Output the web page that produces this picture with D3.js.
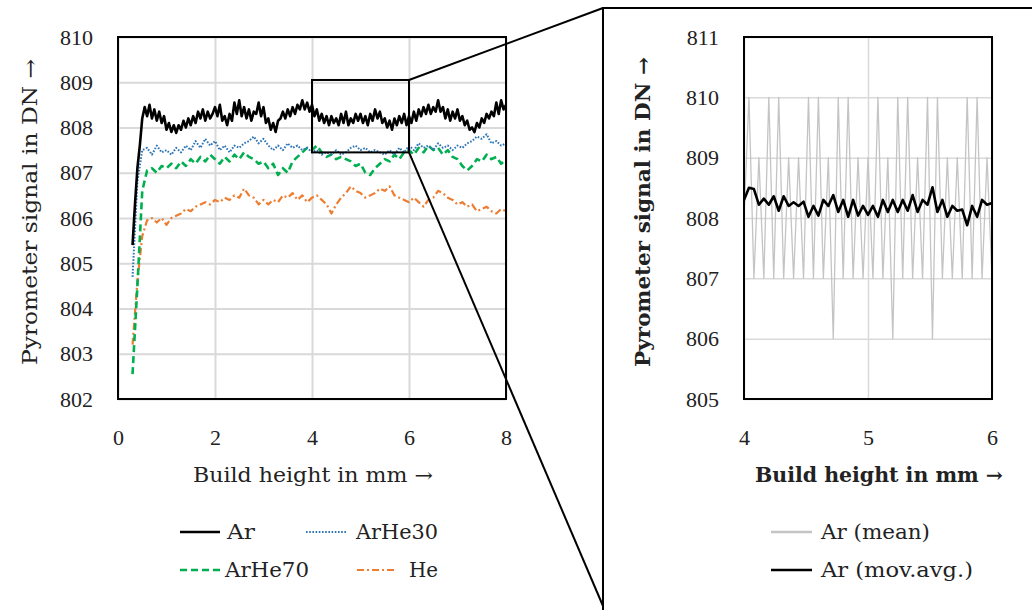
<!DOCTYPE html>
<html>
<head>
<meta charset="utf-8">
<script src="https://cdn.jsdelivr.net/npm/d3@7"></script>
<style>
  body { margin: 0; background: #fff; }
  svg { display: block; }
  text { font-family: "DejaVu Serif", "Liberation Serif", serif; fill: #222; }
</style>
</head>
<body>
<div id="chart"></div>
<script>
// ---- data ----
// left panel: build height 0.3 .. 8.0 mm, values in DN
const arX = [0.3, 8.0];
const arValues = [
  805.40, 806.30, 807.10, 807.60, 808.20, 808.45, 808.25, 808.50, 808.20, 808.40,
  808.15, 808.35, 808.10, 808.25, 807.95, 808.10, 807.90, 808.05, 807.88, 808.05,
  807.95, 808.15, 808.00, 808.20, 808.05, 808.25, 808.10, 808.35, 808.20, 808.40,
  808.15, 808.35, 808.20, 808.30, 808.45, 808.25, 808.50, 808.15, 808.25, 808.05,
  808.30, 808.15, 808.55, 808.30, 808.60, 808.25, 808.45, 808.20, 808.40, 808.15,
  808.35, 808.30, 808.55, 808.25, 808.45, 808.10, 808.20, 807.95, 808.10, 807.90,
  808.15, 808.20, 808.35, 808.20, 808.40, 808.25, 808.45, 808.30, 808.50, 808.40,
  808.60, 808.40, 808.55, 808.35, 808.50, 808.25, 808.40, 808.15, 808.30, 808.10,
  808.25, 808.05, 808.25, 808.10, 808.20, 808.05, 808.30, 808.10, 808.35, 808.05,
  808.20, 808.10, 808.30, 808.15, 808.30, 808.10, 808.25, 808.05, 808.30, 808.15,
  808.40, 808.20, 808.35, 808.10, 808.20, 808.00, 808.15, 807.95, 808.20, 808.05,
  808.25, 808.10, 808.30, 808.05, 808.25, 808.10, 808.35, 808.15, 808.40, 808.25,
  808.45, 808.30, 808.50, 808.30, 808.45, 808.35, 808.60, 808.35, 808.45, 808.20,
  808.40, 808.15, 808.35, 808.20, 808.40, 808.15, 808.25, 808.05, 808.15, 807.95,
  808.00, 807.90, 808.10, 808.00, 808.20, 808.10, 808.30, 808.20, 808.35, 808.25,
  808.55, 808.30, 808.60, 808.40, 808.50
];
const mixX = [0.3, 8.0];
const arHe30Values = [
  804.70, 806.80, 807.50, 807.55, 807.40, 807.60, 807.45, 807.50, 807.40, 807.55,
  807.45, 807.60, 807.50, 807.70, 807.55, 807.75, 807.60, 807.70, 807.50, 807.60,
  807.45, 807.60, 807.55, 807.65, 807.70, 807.80, 807.65, 807.75, 807.60, 807.50,
  807.60, 807.50, 807.65, 807.55, 807.60, 807.50, 807.55, 807.45, 807.50, 807.40,
  807.45, 807.40, 807.50, 807.40, 807.45, 807.55, 807.60, 807.50, 807.55, 807.45,
  807.50, 807.45, 807.40, 807.50, 807.40, 807.55, 807.45, 807.60, 807.50, 807.65,
  807.55, 807.60, 807.50, 807.65, 807.55, 807.60, 807.50, 807.60, 807.55, 807.65,
  807.70, 807.80, 807.75, 807.85, 807.65, 807.70, 807.60, 807.65
];
const arHe70Values = [
  802.55, 804.50, 806.60, 807.05, 807.10, 807.00, 807.15, 807.10, 807.20, 807.10,
  807.25, 807.15, 807.30, 807.20, 807.35, 807.25, 807.40, 807.30, 807.20, 807.35,
  807.25, 807.40, 807.30, 807.45, 807.35, 807.30, 807.20, 807.25, 807.10, 807.20,
  806.95, 807.10, 807.00, 807.25, 807.35, 807.45, 807.55, 807.50, 807.60, 807.45,
  807.35, 807.40, 807.30, 807.35, 807.30, 807.25, 807.15, 807.20, 807.00, 806.95,
  807.10, 807.20, 807.30, 807.25, 807.40, 807.30, 807.45, 807.50, 807.40, 807.55,
  807.45, 807.60, 807.50, 807.55, 807.40, 807.50, 807.35, 807.30, 807.15, 807.05,
  807.15, 807.30, 807.25, 807.40, 807.30, 807.35, 807.20, 807.30
];
const heValues = [
  803.20, 804.60, 805.60, 805.95, 806.00, 805.90, 806.00, 805.85, 806.00, 806.05,
  806.10, 806.20, 806.15, 806.25, 806.30, 806.35, 806.30, 806.40, 806.35, 806.45,
  806.40, 806.50, 806.45, 806.65, 806.50, 806.45, 806.30, 806.40, 806.30, 806.40,
  806.35, 806.50, 806.45, 806.55, 806.40, 806.50, 806.35, 806.45, 806.50, 806.40,
  806.30, 806.10, 806.30, 806.45, 806.55, 806.70, 806.60, 806.55, 806.45, 806.50,
  806.55, 806.65, 806.60, 806.70, 806.50, 806.45, 806.40, 806.35, 806.45, 806.35,
  806.25, 806.40, 806.45, 806.60, 806.55, 806.45, 806.40, 806.30, 806.35, 806.25,
  806.30, 806.15, 806.20, 806.25, 806.15, 806.10, 806.20, 806.15
];
// right panel: zoom 4 .. 6 mm of Ar
const zoomX = [4.0, 6.0];
const arMeanValues = [
  808, 810, 807, 809, 807, 810, 807, 810, 807, 809,
  807, 809, 807, 810, 807, 810, 807, 809, 806, 810,
  807, 810, 807, 809, 807, 809, 807, 810, 807, 809,
  806, 810, 807, 810, 807, 809, 807, 810, 806, 810,
  807, 809, 807, 809, 807, 810, 807, 810, 807, 809,
  807
];
const arMovAvgValues = [
  808.30, 808.50, 808.48, 808.22, 808.32, 808.22, 808.36, 808.12, 808.36, 808.20,
  808.26, 808.20, 808.27, 808.02, 808.20, 808.04, 808.30, 808.20, 808.38, 808.10,
  808.30, 808.02, 808.30, 808.04, 808.20, 808.05, 808.20, 808.02, 808.30, 808.10,
  808.30, 808.10, 808.30, 808.12, 808.38, 808.10, 808.30, 808.22, 808.51, 808.10,
  808.30, 808.02, 808.20, 808.12, 808.14, 807.88, 808.20, 808.02, 808.30, 808.22,
  808.25
];
const leftXTicks = [0, 2, 4, 6, 8];
const leftYTicks = [802, 803, 804, 805, 806, 807, 808, 809, 810];
const rightXTicks = [4, 5, 6];
const rightYTicks = [805, 806, 807, 808, 809, 810, 811];
const zoomBox = { x: [4, 6], y: [807.45, 809.05] };

// turn a value list into points spread evenly over its x span
function toPoints(span, values) {
  const step = (span[1] - span[0]) / (values.length - 1);
  return values.map((v, i) => ({ x: span[0] + i * step, y: v }));
}

const width = 1032, height = 610;
const svg = d3.select("#chart").append("svg")
    .attr("width", width)
    .attr("height", height);

const leftSeries = [
  { name: "Ar", pts: toPoints(arX, arValues), color: "#000", w: 2.6, dash: null },
  { name: "ArHe30", pts: toPoints(mixX, arHe30Values), color: "#2e75b6", w: 2, dash: "1.6,1.6" },
  { name: "ArHe70", pts: toPoints(mixX, arHe70Values), color: "#00b050", w: 2.6, dash: "7,4" },
  { name: "He", pts: toPoints(mixX, heValues), color: "#ed7d31", w: 2.2, dash: "7,3,2,3" }
];
// draw order: He, ArHe70, ArHe30, Ar on top
const drawOrder = ["He", "ArHe70", "ArHe30", "Ar"];

// ---- left panel ----
const xL = d3.scaleLinear().domain([0, 8]).range([118, 506]);
const yL = d3.scaleLinear().domain([802, 810]).range([399, 37]);

function panel(x, y, xTicks, yTicks, gridColor, gridW, fontSize) {
  const g = svg.append("g");
  g.append("g")
      .attr("transform", "translate(0," + y.range()[0] + ")")
      .call(d3.axisBottom(x).tickValues(xTicks).tickSize(-(y.range()[0] - y.range()[1])).tickFormat(""))
      .call(a => a.select(".domain").remove())
      .selectAll("line").attr("stroke", gridColor).attr("stroke-width", gridW);
  g.append("g")
      .attr("transform", "translate(" + x.range()[0] + ",0)")
      .call(d3.axisLeft(y).tickValues(yTicks).tickSize(-(x.range()[1] - x.range()[0])).tickFormat(""))
      .call(a => a.select(".domain").remove())
      .selectAll("line").attr("stroke", gridColor).attr("stroke-width", gridW);
  // tick labels
  g.append("g")
      .attr("transform", "translate(0," + (y.range()[0] + 38) + ")")
      .call(d3.axisBottom(x).tickValues(xTicks).tickSize(0).tickPadding(0).tickFormat(d3.format("d")))
      .call(a => a.select(".domain").remove())
      .selectAll("text")
        .attr("dy", "0.35em")
        .style("font-size", fontSize + "px")
        .style("font-family", '"Liberation Serif", serif')
        .attr("fill", "#222");
  g.append("g")
      .attr("transform", "translate(" + (x.range()[0] - 25) + ",0)")
      .call(d3.axisLeft(y).tickValues(yTicks).tickSize(0).tickPadding(0).tickFormat(d3.format("d")))
      .call(a => a.select(".domain").remove())
      .selectAll("text")
        .style("font-size", fontSize + "px")
        .style("font-family", '"Liberation Serif", serif')
        .attr("fill", "#222");
  return g;
}

// text with a fixed printed width (the source face is wider than ours)
function label(x, y, str, len, opts) {
  opts = opts || {};
  const t = svg.append("text")
      .attr("x", x).attr("y", y)
      .attr("text-anchor", opts.anchor || "start")
      .attr("textLength", len)
      .attr("lengthAdjust", "spacingAndGlyphs")
      .style("font-size", (opts.size || 20) + "px")
      .style("font-weight", opts.bold ? "bold" : "normal")
      .text(str);
  if (opts.rotate) t.attr("transform", "rotate(-90," + x + "," + y + ")");
  return t;
}

panel(xL, yL, leftXTicks, leftYTicks, "#d9d9d9", 2, 22);

const lineL = d3.line().x(d => xL(d.x)).y(d => yL(d.y));
drawOrder.forEach(n => {
  const s = leftSeries.find(d => d.name === n);
  svg.append("path")
      .datum(s.pts)
      .attr("d", lineL)
      .attr("fill", "none")
      .attr("stroke", s.color)
      .attr("stroke-width", s.w)
      .attr("stroke-dasharray", s.dash)
      .attr("stroke-linejoin", "round");
});

svg.append("rect")
    .attr("x", xL(0)).attr("y", yL(810))
    .attr("width", xL(8) - xL(0)).attr("height", yL(802) - yL(810))
    .attr("fill", "none").attr("stroke", "#000").attr("stroke-width", 2);

// zoom box
const bx0 = xL(zoomBox.x[0]), bx1 = xL(zoomBox.x[1]);
const by0 = yL(zoomBox.y[1]), by1 = yL(zoomBox.y[0]);
svg.append("rect")
    .attr("x", bx0).attr("y", by0)
    .attr("width", bx1 - bx0).attr("height", by1 - by0)
    .attr("fill", "none").attr("stroke", "#000").attr("stroke-width", 2);

// axis titles
label(313, 482, "Build height in mm →", 240, { anchor: "middle" });
label(37, 212, "Pyrometer signal in DN →", 306, { anchor: "middle", rotate: true });

// legend, left
const legendLeft = [
  { name: "Ar", lx: 180, ly: 532, tx: 227, len: 28 },
  { name: "ArHe30", lx: 306, ly: 532, tx: 356, len: 82 },
  { name: "ArHe70", lx: 180, ly: 570, tx: 225, len: 84 },
  { name: "He", lx: 357, ly: 570, tx: 409, len: 29 }
];
legendLeft.forEach(l => {
  const s = leftSeries.find(d => d.name === l.name);
  svg.append("line")
      .attr("x1", l.lx).attr("x2", l.lx + 40)
      .attr("y1", l.ly).attr("y2", l.ly)
      .attr("stroke", s.color).attr("stroke-width", s.w)
      .attr("stroke-dasharray", s.dash);
  label(l.tx, l.ly + 7, l.name, l.len);
});

// ---- right panel frame and connectors ----
svg.append("rect")
    .attr("x", 603).attr("y", 8)
    .attr("width", 460).attr("height", 640)
    .attr("fill", "none").attr("stroke", "#000").attr("stroke-width", 2);
svg.append("line")
    .attr("x1", bx1).attr("y1", by0).attr("x2", 603).attr("y2", 8)
    .attr("stroke", "#000").attr("stroke-width", 2);
svg.append("line")
    .attr("x1", bx1).attr("y1", by1).attr("x2", 603).attr("y2", 606)
    .attr("stroke", "#000").attr("stroke-width", 2);

// ---- right panel ----
const xR = d3.scaleLinear().domain([4, 6]).range([744, 992]);
const yR = d3.scaleLinear().domain([805, 811]).range([399, 37]);
panel(xR, yR, rightXTicks, rightYTicks, "#d9d9d9", 1.5, 22);

const lineR = d3.line().x(d => xR(d.x)).y(d => yR(d.y));
const rightSeries = [
  { name: "Ar (mean)", pts: toPoints(zoomX, arMeanValues), color: "#c4c4c4", w: 1.3 },
  { name: "Ar (mov.avg.)", pts: toPoints(zoomX, arMovAvgValues), color: "#000", w: 2.6 }
];
rightSeries.forEach(s => {
  svg.append("path")
      .datum(s.pts)
      .attr("d", lineR)
      .attr("fill", "none")
      .attr("stroke", s.color)
      .attr("stroke-width", s.w)
      .attr("stroke-linejoin", "round");
});

svg.append("rect")
    .attr("x", xR(4)).attr("y", yR(811))
    .attr("width", xR(6) - xR(4)).attr("height", yR(805) - yR(811))
    .attr("fill", "none").attr("stroke", "#000").attr("stroke-width", 2);

label(879, 482, "Build height in mm →", 248, { anchor: "middle", bold: true });
label(650, 212, "Pyrometer signal in DN →", 310, { anchor: "middle", rotate: true, bold: true });

const legendRight = [
  { name: "Ar (mean)", lx: 771, ly: 532, tx: 821, len: 109 },
  { name: "Ar (mov.avg.)", lx: 771, ly: 570, tx: 821, len: 152 }
];
legendRight.forEach(l => {
  const s = rightSeries.find(d => d.name === l.name);
  svg.append("line")
      .attr("x1", l.lx).attr("x2", l.lx + 41)
      .attr("y1", l.ly).attr("y2", l.ly)
      .attr("stroke", s.color).attr("stroke-width", s.name === "Ar (mean)" ? 2.5 : 2.6);
  label(l.tx, l.ly + 7, l.name, l.len);
});
</script>
</body>
</html>
